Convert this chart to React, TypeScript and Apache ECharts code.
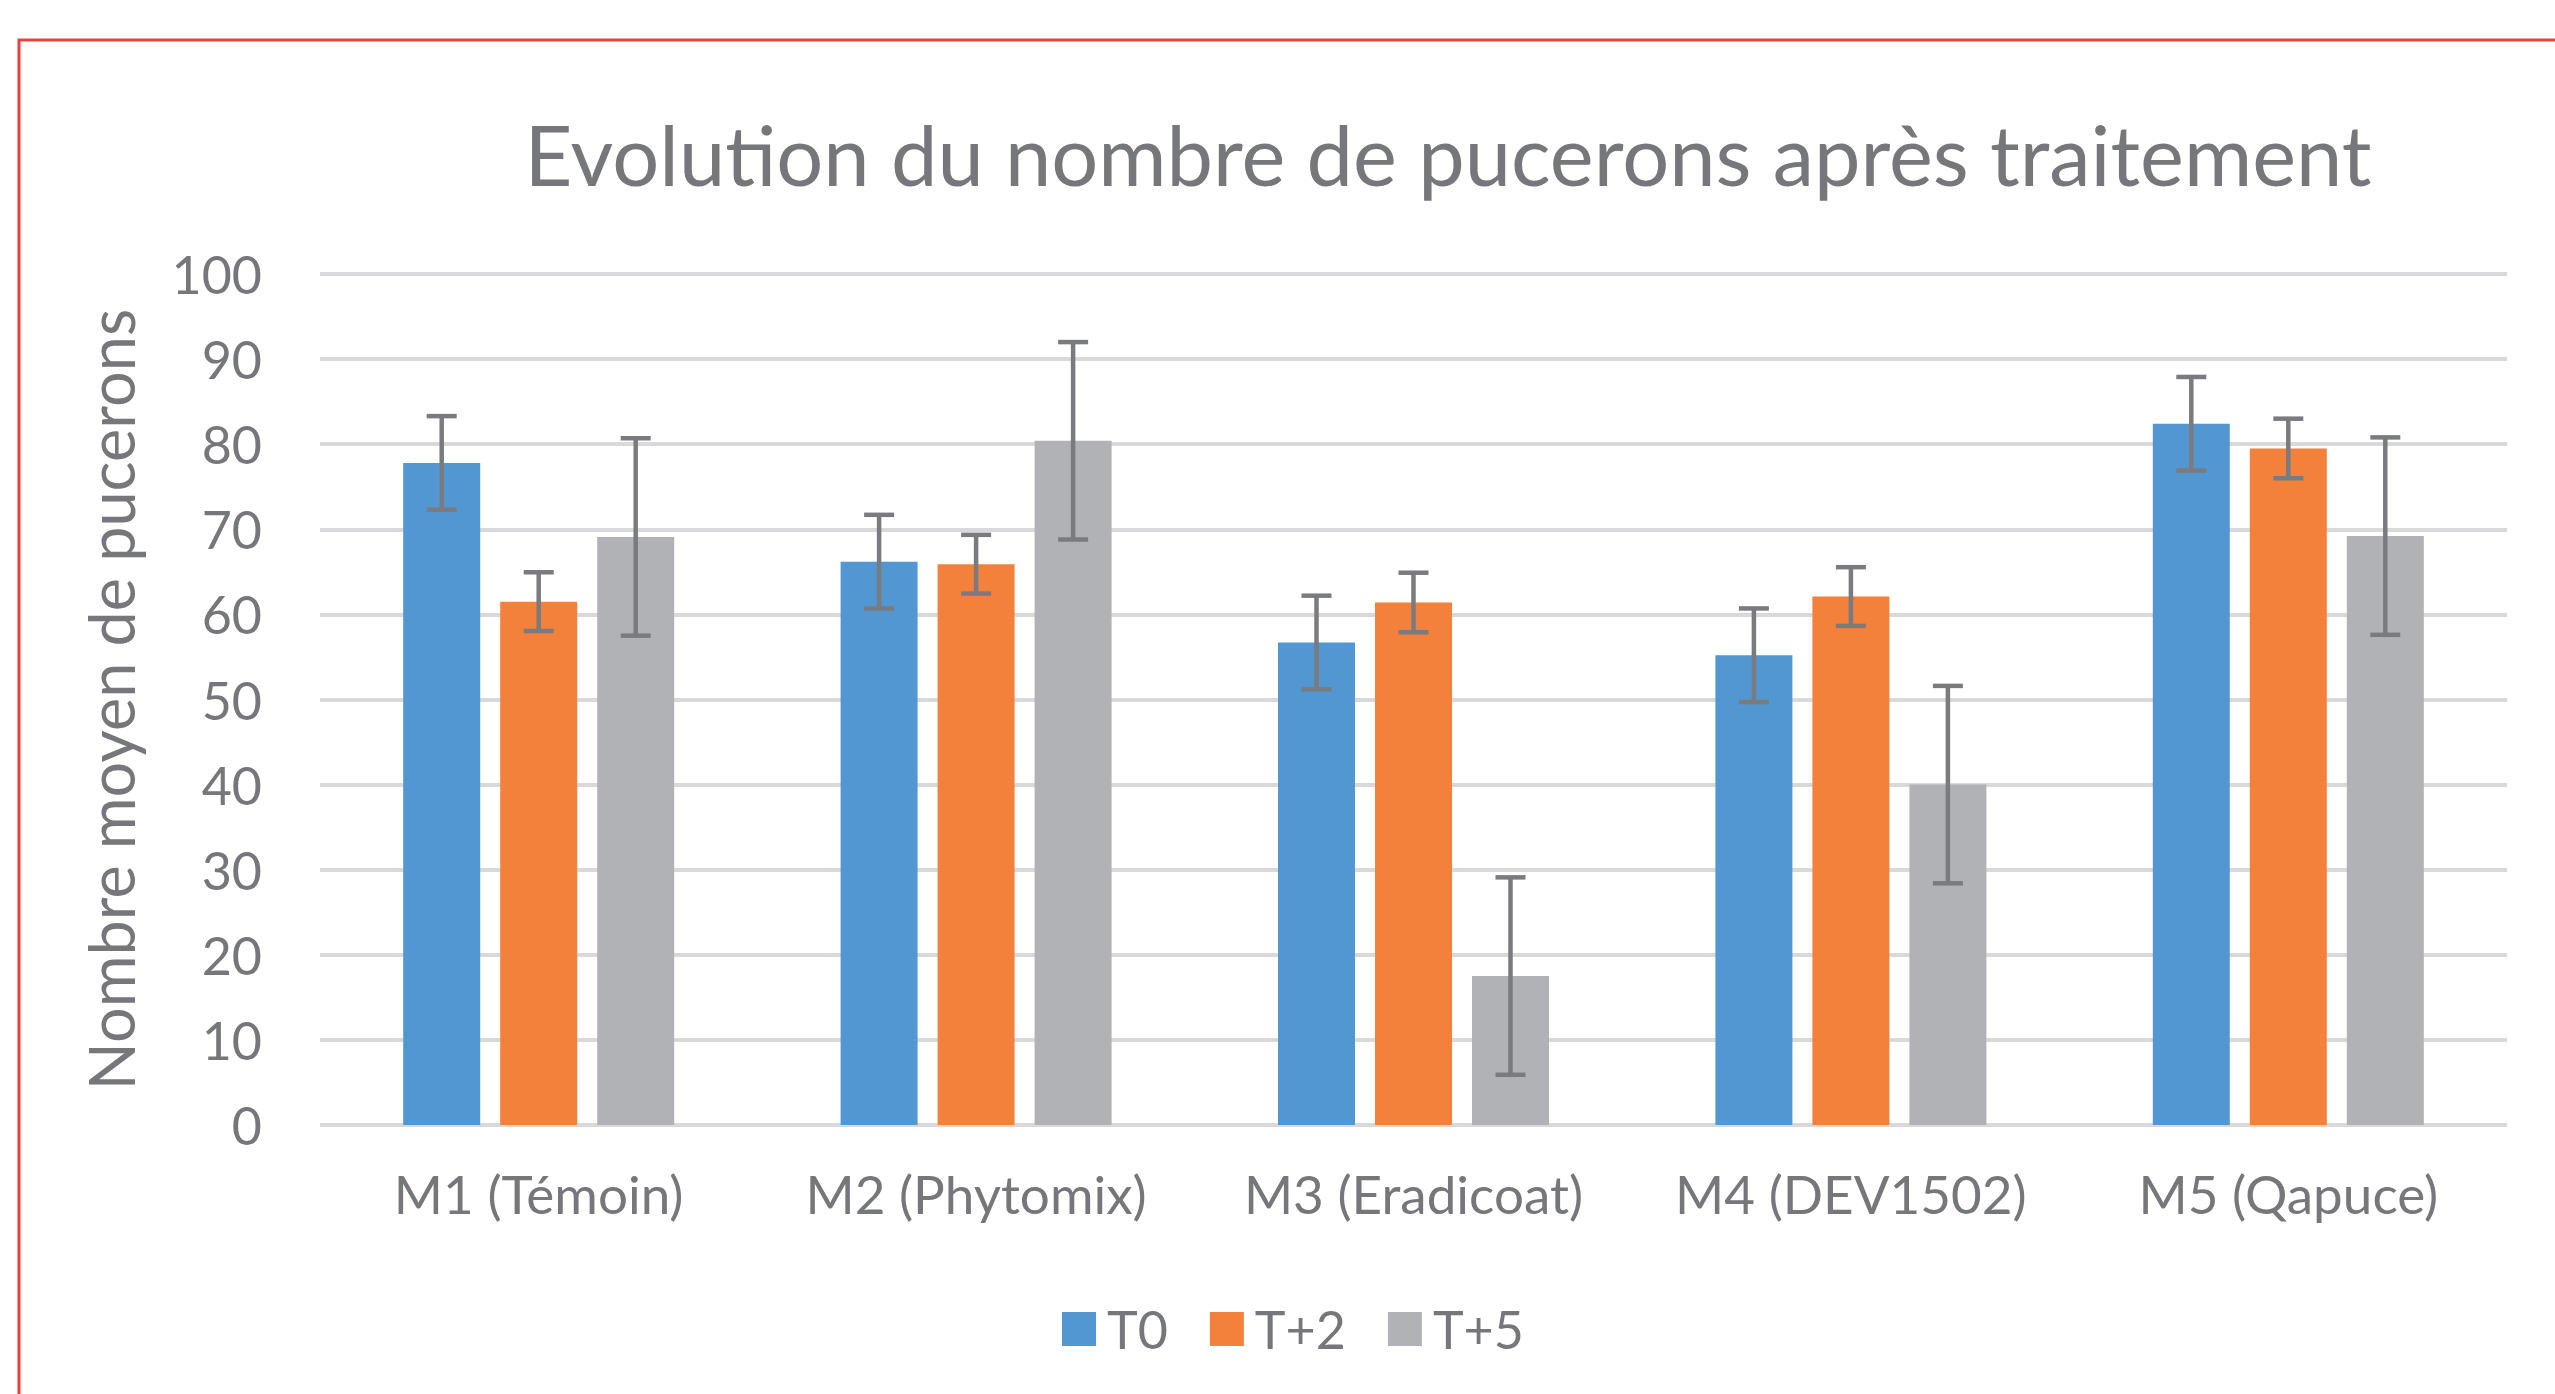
import React, { useEffect, useRef } from "react";
import * as echarts from "echarts";

const titleText = "Evolution du nombre de pucerons après traitement";
const yAxisName = "Nombre moyen de pucerons";
const categories = ["M1 (Témoin)", "M2 (Phytomix)", "M3 (Eradicoat)", "M4 (DEV1502)", "M5 (Qapuce)"];
const seriesNames = ["T0", "T+2", "T+5"];
const valuesT0 = [77.8, 66.2, 56.7, 55.2, 82.4];
const valuesT2 = [61.5, 65.9, 61.4, 62.1, 79.5];
const valuesT5 = [69.1, 80.4, 17.5, 40.0, 69.2];
const errT0 = [5.5, 5.5, 5.5, 5.5, 5.5];
const errT2 = [3.45, 3.45, 3.5, 3.45, 3.5];
const errT5 = [11.6, 11.6, 11.6, 11.6, 11.6];
const yMin = 0;
const yMax = 100;
const yInterval = 10;

const colors = ["#5297d2", "#f3803b", "#b1b2b5"];
const textColor = "#76777a";
const errColor = "#7a7b7f";
const FONT = "Lato";
const BAR_W = 77;
const BAR_GAP = 20;

export default function App() {
  const ref = useRef<HTMLDivElement>(null);
  useEffect(() => {
    if (!ref.current) return;
    const chart = echarts.init(ref.current, undefined, { renderer: "svg" });
    const allValues = [valuesT0, valuesT2, valuesT5];
    const allErr = [errT0, errT2, errT5];

    const barSeries = seriesNames.map((name, i) => ({
      name,
      type: "bar",
      data: allValues[i],
      barWidth: BAR_W,
      barGap: (BAR_GAP / BAR_W) * 100 + "%",
      itemStyle: { color: colors[i] },
      z: 2,
    }));

    const errSeries = seriesNames.map((name, i) => {
      const offset = (i - 1) * (BAR_W + BAR_GAP);
      return {
        name: "err-" + name,
        type: "custom",
        z: 5,
        silent: true,
        encode: { x: 0, y: [1, 2] },
        data: allValues[i].map((v, k) => [k, v - allErr[i][k], v + allErr[i][k]]),
        renderItem: (params: any, api: any) => {
          const x = api.value(0);
          const lo = api.coord([x, api.value(1)]);
          const hi = api.coord([x, api.value(2)]);
          const cx = lo[0] + offset;
          const half = 15;
          const style = { stroke: errColor, lineWidth: 4.5 };
          return {
            type: "group",
            children: [
              { type: "line", shape: { x1: cx, y1: hi[1], x2: cx, y2: lo[1] }, style },
              { type: "line", shape: { x1: cx - half, y1: hi[1], x2: cx + half, y2: hi[1] }, style },
              { type: "line", shape: { x1: cx - half, y1: lo[1], x2: cx + half, y2: lo[1] }, style },
            ],
          };
        },
      };
    });

    chart.setOption({
      animation: false,
      backgroundColor: "#ffffff",
      textStyle: { fontFamily: FONT },
      title: {
        text: titleText,
        left: 1448,
        top: 154,
        textAlign: "center",
        textVerticalAlign: "middle",
        padding: 0,
        textStyle: { fontFamily: FONT, fontSize: 83, fontWeight: "normal", color: textColor },
      },
      graphic: [
        {
          type: "rect",
          shape: { x: 19, y: 40, width: 2700, height: 1500 },
          style: { fill: "none", stroke: "#e8413f", lineWidth: 3 },
          silent: true,
          z: 100,
        },
      ],
      legend: {
        data: seriesNames,
        left: 1062,
        top: 1303,
        padding: 0,
        icon: "rect",
        itemWidth: 34,
        itemHeight: 34,
        itemGap: 42,
        textStyle: { fontFamily: FONT, fontSize: 52, color: textColor, padding: [0, 0, 0, 6] },
      },
      grid: { left: 320, right: 48, top: 274, bottom: 269, containLabel: false, outerBoundsMode: "none" },
      xAxis: {
        type: "category",
        data: categories,
        axisTick: { show: false },
        axisLine: { show: false },
        axisLabel: { fontFamily: FONT, fontSize: 53, color: textColor, margin: 42, interval: 0 },
      },
      yAxis: {
        type: "value",
        min: yMin,
        max: yMax,
        interval: yInterval,
        name: yAxisName,
        nameLocation: "middle",
        nameGap: 178,
        nameTextStyle: { fontFamily: FONT, fontSize: 63, color: textColor },
        axisLine: { show: false },
        axisTick: { show: false },
        axisLabel: { fontFamily: FONT, fontSize: 52, color: textColor, margin: 58 },
        splitLine: { lineStyle: { color: "#d9d9db", width: 4 } },
      },
      series: [...barSeries, ...errSeries],
    });
    return () => chart.dispose();
  }, []);
  return (
    <div
      ref={ref}
      style={{ position: "fixed", left: 0, top: 0, width: 2555, height: 1394, background: "#fff" }}
    />
  );
}
